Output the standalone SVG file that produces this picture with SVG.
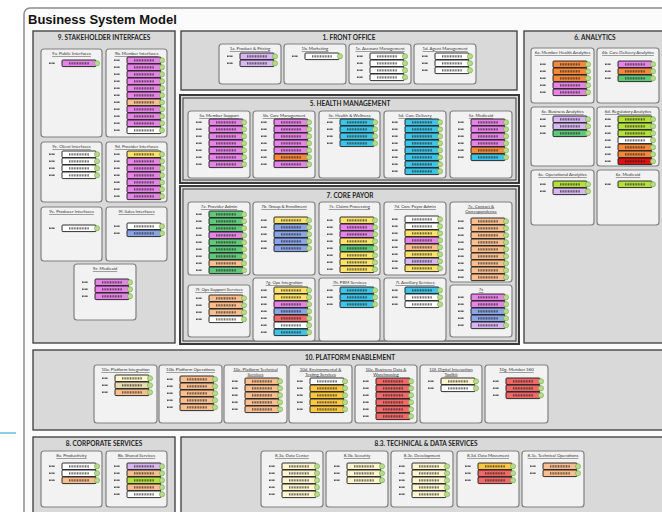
<svg xmlns="http://www.w3.org/2000/svg" xmlns:xlink="http://www.w3.org/1999/xlink" width="662" height="512" viewBox="0 0 662 512">
<style>
.frame{fill:#fbfbfb;stroke:#8f8f8f;stroke-width:1.5}
.pn{fill:#d9d9d9;stroke:#3a3a3a;stroke-width:1.3}
.pn2{fill:#d9d9d9;stroke:#3a3a3a;stroke-width:2}
.inner{fill:none;stroke:#3a3a3a;stroke-width:1}
.sb{fill:#f2f2f2;stroke:#808080;stroke-width:1.2}
.pt{font-family:Lato,"Liberation Sans",sans-serif;font-weight:bold;font-size:6.5px;fill:#262626;text-anchor:middle}
.st{font-family:Lato,"Liberation Sans",sans-serif;font-size:4.4px;fill:#333;text-anchor:middle;text-decoration:underline}
.v{fill:#e683e6}.lav{fill:#d7b6f2}.o{fill:#f5883a}.pe{fill:#f9be8f}.c{fill:#3cc3e6}
.g{fill:#5fc77a}.y{fill:#fde26a}.b{fill:#8aa4e6}.r{fill:#f06868}.w{fill:#ffffff}
.lime{fill:#b4e03c}.dr{fill:#e01010}.cr{fill:#fdf5d0}.gold{fill:#fcc843}.tan{fill:#e6dcb0}
</style>
<defs>
  <!-- one service bar: id tag, coloured bar, label texture, link badge -->
  <g id="k">
    <path d="M-13 3.3h6" stroke="#3b3b3b" stroke-width="1.5" stroke-dasharray="0.9 0.5" fill="none"/>
    <rect width="34" height="6.6" rx="1" stroke="#1a1a1a" stroke-width="0.9"/>
    <path d="M7 3.3h20" stroke="#1f1f1f" stroke-opacity="0.68" stroke-width="2.3" stroke-dasharray="1 0.6" fill="none"/>
    <circle cx="35" cy="3.3" r="2.6" fill="#b7da8c" stroke="#76aa48" stroke-width="0.6"/>
  </g>
</defs>

<rect width="662" height="512" fill="#ffffff"/>
<line x1="0" y1="433" x2="16" y2="433" stroke="#1f9ad8" stroke-width="1"/>
<rect class="frame" x="24" y="8" width="660" height="520" rx="6"/>
<text x="28" y="24" font-family="'Liberation Sans',Arial,sans-serif" font-weight="bold" font-size="13" fill="#111">Business System Model</text>

<!-- layer panels -->
<g id="panels">
  <rect class="pn" x="33" y="31" width="142" height="312"/>
  <text class="pt" x="104" y="40">9. STAKEHOLDER INTERFACES</text>
  <rect class="pn" x="181" y="31" width="336" height="59"/>
  <text class="pt" x="349" y="40">1. FRONT OFFICE</text>
  <rect class="pn2" x="180" y="95" width="339" height="88"/>
  <rect class="inner" x="183" y="98" width="333" height="82"/>
  <text class="pt" x="350" y="106">5. HEALTH MANAGEMENT</text>
  <rect class="pn2" x="180" y="186" width="339" height="158"/>
  <rect class="inner" x="183" y="189" width="333" height="152"/>
  <text class="pt" x="350" y="198">7. CORE PAYOR</text>
  <rect class="pn" x="524" y="31" width="142" height="312"/>
  <text class="pt" x="595" y="40">6. ANALYTICS</text>
  <rect class="pn" x="33" y="350" width="633" height="80"/>
  <text class="pt" x="350" y="360">10. PLATFORM ENABLEMENT</text>
  <rect class="pn" x="33" y="437" width="142" height="82"/>
  <text class="pt" x="104" y="446">8. CORPORATE SERVICES</text>
  <rect class="pn" x="181" y="437" width="485" height="82"/>
  <text class="pt" x="426" y="446">8.3. TECHNICAL &amp; DATA SERVICES</text>
</g>

<!-- 9. Stakeholder interfaces -->
<g id="n9a"><rect class="sb" x="41" y="49" width="61" height="88" rx="3"/><text class="st" x="71.5" y="55">9a. Public Interfaces</text>
<use href="#k" x="62" y="60" class="v"/></g>
<g id="n9b"><rect class="sb" x="106" y="49" width="61" height="88" rx="3"/><text class="st" x="136.5" y="55">9b. Member Interfaces</text>
<use href="#k" x="127" y="57" class="v"/><use href="#k" x="127" y="64" class="v"/><use href="#k" x="127" y="71" class="v"/><use href="#k" x="127" y="78" class="v"/><use href="#k" x="127" y="85" class="v"/><use href="#k" x="127" y="92" class="v"/><use href="#k" x="127" y="99" class="pe"/><use href="#k" x="127" y="106" class="v"/><use href="#k" x="127" y="113" class="v"/><use href="#k" x="127" y="120" class="v"/><use href="#k" x="127" y="127" class="w"/></g>
<g id="n9c"><rect class="sb" x="41" y="142" width="61" height="60" rx="3"/><text class="st" x="71.5" y="148">9c. Client Interfaces</text>
<use href="#k" x="62" y="151" class="w"/><use href="#k" x="62" y="158" class="w"/><use href="#k" x="62" y="165" class="w"/><use href="#k" x="62" y="172" class="w"/></g>
<g id="n9d"><rect class="sb" x="106" y="142" width="61" height="60" rx="3"/><text class="st" x="136.5" y="148">9d. Provider Interfaces</text>
<use href="#k" x="127" y="151" class="y"/><use href="#k" x="127" y="158" class="v"/><use href="#k" x="127" y="165" class="v"/><use href="#k" x="127" y="172" class="v"/><use href="#k" x="127" y="179" class="v"/><use href="#k" x="127" y="186" class="v"/><use href="#k" x="127" y="193" class="v"/></g>
<g id="n9e"><rect class="sb" x="41" y="207" width="61" height="54" rx="3"/><text class="st" x="71.5" y="213">9e. Producer Interfaces</text>
<use href="#k" x="62" y="225" class="w"/></g>
<g id="n9f"><rect class="sb" x="106" y="207" width="61" height="54" rx="3"/><text class="st" x="136.5" y="213">9f. Sales Interfaces</text>
<use href="#k" x="127" y="223" class="w"/><use href="#k" x="127" y="230" class="b"/></g>
<g id="n9z"><rect class="sb" x="74" y="264" width="62" height="56" rx="3"/><text class="st" x="105" y="270">9z. Medicaid</text>
<use href="#k" x="95" y="279" class="v"/><use href="#k" x="95" y="286" class="v"/><use href="#k" x="95" y="293" class="v"/></g>

<!-- 1. Front office -->
<g id="n1a"><rect class="sb" x="219" y="44" width="62" height="40" rx="3"/><text class="st" x="250" y="50">1a. Product &amp; Pricing</text>
<use href="#k" x="240" y="53" class="lav"/><use href="#k" x="240" y="60" class="lav"/></g>
<g id="n1b"><rect class="sb" x="284" y="44" width="62" height="40" rx="3"/><text class="st" x="315" y="50">1b. Marketing</text>
<use href="#k" x="305" y="53" class="w"/></g>
<g id="n1c"><rect class="sb" x="349" y="44" width="62" height="40" rx="3"/><text class="st" x="380" y="50">1c. Account Management</text>
<use href="#k" x="370" y="53" class="w"/><use href="#k" x="370" y="60" class="w"/><use href="#k" x="370" y="67" class="w"/><use href="#k" x="370" y="74" class="w"/></g>
<g id="n1d"><rect class="sb" x="414" y="44" width="62" height="40" rx="3"/><text class="st" x="445" y="50">1d. Agent Management</text>
<use href="#k" x="435" y="53" class="w"/><use href="#k" x="435" y="60" class="w"/><use href="#k" x="435" y="67" class="w"/></g>

<!-- 5. Health management -->
<g id="n5a"><rect class="sb" x="188" y="111" width="62" height="67" rx="3"/><text class="st" x="219" y="117">5a. Member Support</text>
<use href="#k" x="209" y="119" class="v"/><use href="#k" x="209" y="126" class="v"/><use href="#k" x="209" y="133" class="v"/><use href="#k" x="209" y="140" class="v"/><use href="#k" x="209" y="147" class="v"/><use href="#k" x="209" y="154" class="v"/><use href="#k" x="209" y="161" class="v"/></g>
<g id="n5b"><rect class="sb" x="253" y="111" width="62" height="67" rx="3"/><text class="st" x="284" y="117">5b. Care Management</text>
<use href="#k" x="274" y="119" class="v"/><use href="#k" x="274" y="126" class="v"/><use href="#k" x="274" y="133" class="v"/><use href="#k" x="274" y="140" class="v"/><use href="#k" x="274" y="147" class="v"/><use href="#k" x="274" y="154" class="o"/><use href="#k" x="274" y="161" class="v"/></g>
<g id="n5c"><rect class="sb" x="319" y="111" width="61" height="67" rx="3"/><text class="st" x="349.5" y="117">5c. Health &amp; Wellness</text>
<use href="#k" x="340" y="119" class="c"/><use href="#k" x="340" y="126" class="c"/><use href="#k" x="340" y="133" class="c"/><use href="#k" x="340" y="140" class="c"/></g>
<g id="n5d"><rect class="sb" x="384" y="111" width="62" height="67" rx="3"/><text class="st" x="415" y="117">5d. Care Delivery</text>
<use href="#k" x="405" y="119" class="c"/><use href="#k" x="405" y="126" class="c"/><use href="#k" x="405" y="133" class="c"/><use href="#k" x="405" y="140" class="c"/><use href="#k" x="405" y="147" class="c"/><use href="#k" x="405" y="154" class="c"/><use href="#k" x="405" y="161" class="c"/><use href="#k" x="405" y="168" class="c"/></g>
<g id="n5z"><rect class="sb" x="450" y="111" width="62" height="67" rx="3"/><text class="st" x="481" y="117">5z. Medicaid</text>
<use href="#k" x="471" y="119" class="v"/><use href="#k" x="471" y="126" class="v"/><use href="#k" x="471" y="133" class="v"/><use href="#k" x="471" y="140" class="v"/><use href="#k" x="471" y="147" class="o"/><use href="#k" x="471" y="154" class="c"/></g>

<!-- 7. Core payor -->
<g id="n7a"><rect class="sb" x="188" y="202" width="62" height="73" rx="3"/><text class="st" x="219" y="208">7a. Provider Admin</text>
<use href="#k" x="209" y="211" class="g"/><use href="#k" x="209" y="218" class="g"/><use href="#k" x="209" y="225" class="g"/><use href="#k" x="209" y="232" class="v"/><use href="#k" x="209" y="239" class="g"/><use href="#k" x="209" y="246" class="g"/><use href="#k" x="209" y="253" class="g"/><use href="#k" x="209" y="260" class="pe"/><use href="#k" x="209" y="267" class="g"/></g>
<g id="n7b"><rect class="sb" x="253" y="202" width="62" height="73" rx="3"/><text class="st" x="284" y="208">7b. Group &amp; Enrollment</text>
<use href="#k" x="274" y="217" class="y"/><use href="#k" x="274" y="224" class="b"/><use href="#k" x="274" y="231" class="b"/><use href="#k" x="274" y="238" class="b"/><use href="#k" x="274" y="245" class="b"/></g>
<g id="n7c"><rect class="sb" x="319" y="202" width="61" height="73" rx="3"/><text class="st" x="349.5" y="208">7c. Claims Processing</text>
<use href="#k" x="340" y="217" class="y"/><use href="#k" x="340" y="224" class="v"/><use href="#k" x="340" y="231" class="v"/><use href="#k" x="340" y="238" class="y"/><use href="#k" x="340" y="245" class="g"/><use href="#k" x="340" y="252" class="y"/><use href="#k" x="340" y="259" class="y"/><use href="#k" x="340" y="266" class="y"/></g>
<g id="n7d"><rect class="sb" x="384" y="202" width="62" height="73" rx="3"/><text class="st" x="415" y="208">7d. Core Payor Admin</text>
<use href="#k" x="405" y="216" class="w"/><use href="#k" x="405" y="223" class="w"/><use href="#k" x="405" y="230" class="y"/><use href="#k" x="405" y="237" class="v"/><use href="#k" x="405" y="244" class="pe"/><use href="#k" x="405" y="251" class="y"/><use href="#k" x="405" y="258" class="lav"/><use href="#k" x="405" y="265" class="y"/></g>
<g id="n7e"><rect class="sb" x="450" y="202" width="62" height="80" rx="3"/><text class="st" x="481" y="207.5">7e. Contact &amp;</text><text class="st" x="481" y="212.5">Correspondence</text>
<use href="#k" x="471" y="218" class="pe"/><use href="#k" x="471" y="225" class="pe"/><use href="#k" x="471" y="232" class="pe"/><use href="#k" x="471" y="239" class="pe"/><use href="#k" x="471" y="246" class="pe"/><use href="#k" x="471" y="253" class="pe"/><use href="#k" x="471" y="260" class="pe"/><use href="#k" x="471" y="267" class="pe"/><use href="#k" x="471" y="274" class="pe"/></g>
<g id="n7f"><rect class="sb" x="188" y="285" width="62" height="52" rx="3"/><text class="st" x="219" y="291">7f. Ops Support Services</text>
<use href="#k" x="209" y="295" class="pe"/><use href="#k" x="209" y="302" class="pe"/><use href="#k" x="209" y="309" class="pe"/><use href="#k" x="209" y="316" class="w"/></g>
<g id="n7g"><rect class="sb" x="253" y="278" width="62" height="63" rx="3"/><text class="st" x="284" y="284">7g. Ops Integration</text>
<use href="#k" x="274" y="287" class="y"/><use href="#k" x="274" y="294" class="y"/><use href="#k" x="274" y="301" class="v"/><use href="#k" x="274" y="308" class="b"/><use href="#k" x="274" y="315" class="r"/><use href="#k" x="274" y="322" class="w"/><use href="#k" x="274" y="329" class="c"/></g>
<g id="n7h"><rect class="sb" x="319" y="278" width="61" height="63" rx="3"/><text class="st" x="349.5" y="284">7h. PBM Services</text>
<use href="#k" x="340" y="287" class="c"/><use href="#k" x="340" y="294" class="c"/><use href="#k" x="340" y="301" class="c"/></g>
<g id="n7i"><rect class="sb" x="384" y="278" width="62" height="63" rx="3"/><text class="st" x="415" y="284">7i. Ancillary Services</text>
<use href="#k" x="405" y="287" class="c"/><use href="#k" x="405" y="294" class="w"/><use href="#k" x="405" y="301" class="w"/></g>
<g id="n7z"><rect class="sb" x="450" y="285" width="62" height="52" rx="3"/><text class="st" x="481" y="291">7z</text>
<use href="#k" x="471" y="294" class="v"/><use href="#k" x="471" y="301" class="v"/><use href="#k" x="471" y="308" class="b"/><use href="#k" x="471" y="315" class="b"/><use href="#k" x="471" y="322" class="lav"/></g>

<!-- 6. Analytics -->
<g id="n6a"><rect class="sb" x="531" y="48" width="63" height="55" rx="3"/><text class="st" x="562.5" y="54">6a. Member Health Analytics</text>
<use href="#k" x="553" y="61" class="o"/><use href="#k" x="553" y="68" class="o"/><use href="#k" x="553" y="75" class="o"/><use href="#k" x="553" y="82" class="v"/><use href="#k" x="553" y="89" class="v"/></g>
<g id="n6b"><rect class="sb" x="597" y="48" width="62" height="55" rx="3"/><text class="st" x="628" y="54">6b. Care Delivery Analytics</text>
<use href="#k" x="618" y="61" class="v"/><use href="#k" x="618" y="68" class="o"/><use href="#k" x="618" y="75" class="g"/></g>
<g id="n6c"><rect class="sb" x="531" y="107" width="63" height="59" rx="3"/><text class="st" x="562.5" y="113">6c. Business Analytics</text>
<use href="#k" x="553" y="116" class="lav"/><use href="#k" x="553" y="123" class="lav"/><use href="#k" x="553" y="130" class="g"/></g>
<g id="n6d"><rect class="sb" x="597" y="107" width="62" height="59" rx="3"/><text class="st" x="628" y="113">6d. Regulatory Analytics</text>
<use href="#k" x="618" y="116" class="lime"/><use href="#k" x="618" y="123" class="lime"/><use href="#k" x="618" y="130" class="lime"/><use href="#k" x="618" y="137" class="w"/><use href="#k" x="618" y="144" class="o"/><use href="#k" x="618" y="151" class="o"/><use href="#k" x="618" y="158" class="dr"/></g>
<g id="n6e"><rect class="sb" x="531" y="170" width="63" height="55" rx="3"/><text class="st" x="562.5" y="176">6e. Operational Analytics</text>
<use href="#k" x="553" y="181" class="lime"/><use href="#k" x="553" y="188" class="lav"/></g>
<g id="n6z"><rect class="sb" x="597" y="170" width="62" height="55" rx="3"/><text class="st" x="628" y="176">6z. Medicaid</text>
<use href="#k" x="618" y="181" class="lime"/></g>

<!-- 10. Platform enablement -->
<g id="n10a"><rect class="sb" x="94" y="365" width="63" height="58" rx="3"/><text class="st" x="125.5" y="371">10a. Platform Integration</text>
<use href="#k" x="115" y="375" class="cr"/><use href="#k" x="115" y="382" class="tan"/><use href="#k" x="115" y="389" class="pe"/></g>
<g id="n10b"><rect class="sb" x="159" y="365" width="63" height="58" rx="3"/><text class="st" x="190.5" y="371">10b. Platform Operations</text>
<use href="#k" x="180" y="376" class="pe"/><use href="#k" x="180" y="383" class="pe"/><use href="#k" x="180" y="390" class="pe"/><use href="#k" x="180" y="397" class="pe"/><use href="#k" x="180" y="404" class="pe"/></g>
<g id="n10c"><rect class="sb" x="224" y="365" width="63" height="58" rx="3"/><text class="st" x="255.5" y="370.5">10c. Platform Technical</text><text class="st" x="255.5" y="375.5">Services</text>
<use href="#k" x="245" y="378" class="pe"/><use href="#k" x="245" y="385" class="pe"/><use href="#k" x="245" y="392" class="pe"/><use href="#k" x="245" y="399" class="pe"/><use href="#k" x="245" y="406" class="pe"/></g>
<g id="n10d"><rect class="sb" x="289" y="365" width="63" height="58" rx="3"/><text class="st" x="320.5" y="370.5">10d. Environmental &amp;</text><text class="st" x="320.5" y="375.5">Testing Services</text>
<use href="#k" x="310" y="378" class="w"/><use href="#k" x="310" y="385" class="gold"/><use href="#k" x="310" y="392" class="gold"/><use href="#k" x="310" y="399" class="gold"/><use href="#k" x="310" y="406" class="gold"/></g>
<g id="n10e"><rect class="sb" x="355" y="365" width="62" height="58" rx="3"/><text class="st" x="386" y="370.5">10e. Business Data &amp;</text><text class="st" x="386" y="375.5">Warehousing</text>
<use href="#k" x="376" y="378" class="r"/><use href="#k" x="376" y="385" class="r"/><use href="#k" x="376" y="392" class="r"/><use href="#k" x="376" y="399" class="r"/><use href="#k" x="376" y="406" class="r"/><use href="#k" x="376" y="413" class="r"/></g>
<g id="n10f"><rect class="sb" x="420" y="365" width="62" height="58" rx="3"/><text class="st" x="451" y="370.5">10f. Digital Interaction</text><text class="st" x="451" y="375.5">Toolkit</text>
<use href="#k" x="441" y="378" class="cr"/><use href="#k" x="441" y="385" class="w"/></g>
<g id="n10g"><rect class="sb" x="485" y="365" width="63" height="58" rx="3"/><text class="st" x="516.5" y="371">10g. Member 360</text>
<use href="#k" x="506" y="378" class="r"/><use href="#k" x="506" y="385" class="r"/><use href="#k" x="506" y="392" class="r"/></g>

<!-- 8. Corporate services -->
<g id="n8a"><rect class="sb" x="41" y="451" width="61" height="56" rx="3"/><text class="st" x="71.5" y="457">8a. Productivity</text>
<use href="#k" x="62" y="463" class="w"/><use href="#k" x="62" y="470" class="w"/><use href="#k" x="62" y="477" class="pe"/></g>
<g id="n8b"><rect class="sb" x="106" y="451" width="61" height="56" rx="3"/><text class="st" x="136.5" y="457">8b. Shared Services</text>
<use href="#k" x="127" y="463" class="lav"/><use href="#k" x="127" y="470" class="pe"/><use href="#k" x="127" y="477" class="lime"/><use href="#k" x="127" y="484" class="pe"/><use href="#k" x="127" y="491" class="w"/></g>

<!-- 8.3 Technical & data services -->
<g id="n83a"><rect class="sb" x="261" y="451" width="62" height="56" rx="3"/><text class="st" x="292" y="457">8.3a. Data Center</text>
<use href="#k" x="282" y="463" class="cr"/><use href="#k" x="282" y="470" class="cr"/><use href="#k" x="282" y="477" class="cr"/><use href="#k" x="282" y="484" class="cr"/><use href="#k" x="282" y="491" class="cr"/></g>
<g id="n83b"><rect class="sb" x="326" y="451" width="62" height="56" rx="3"/><text class="st" x="357" y="457">8.3b. Security</text>
<use href="#k" x="347" y="463" class="cr"/><use href="#k" x="347" y="470" class="cr"/><use href="#k" x="347" y="477" class="cr"/></g>
<g id="n83c"><rect class="sb" x="391" y="451" width="62" height="56" rx="3"/><text class="st" x="422" y="457">8.3c. Development</text>
<use href="#k" x="412" y="463" class="cr"/><use href="#k" x="412" y="470" class="cr"/><use href="#k" x="412" y="477" class="cr"/><use href="#k" x="412" y="484" class="cr"/><use href="#k" x="412" y="491" class="cr"/></g>
<g id="n83d"><rect class="sb" x="457" y="451" width="62" height="56" rx="3"/><text class="st" x="488" y="457">8.3d. Data Movement</text>
<use href="#k" x="478" y="463" class="gold"/><use href="#k" x="478" y="470" class="r"/><use href="#k" x="478" y="477" class="r"/></g>
<g id="n83e"><rect class="sb" x="522" y="451" width="62" height="56" rx="3"/><text class="st" x="553" y="457">8.3e. Technical Operations</text>
<use href="#k" x="543" y="463" class="pe"/><use href="#k" x="543" y="470" class="pe"/></g>
</svg>
